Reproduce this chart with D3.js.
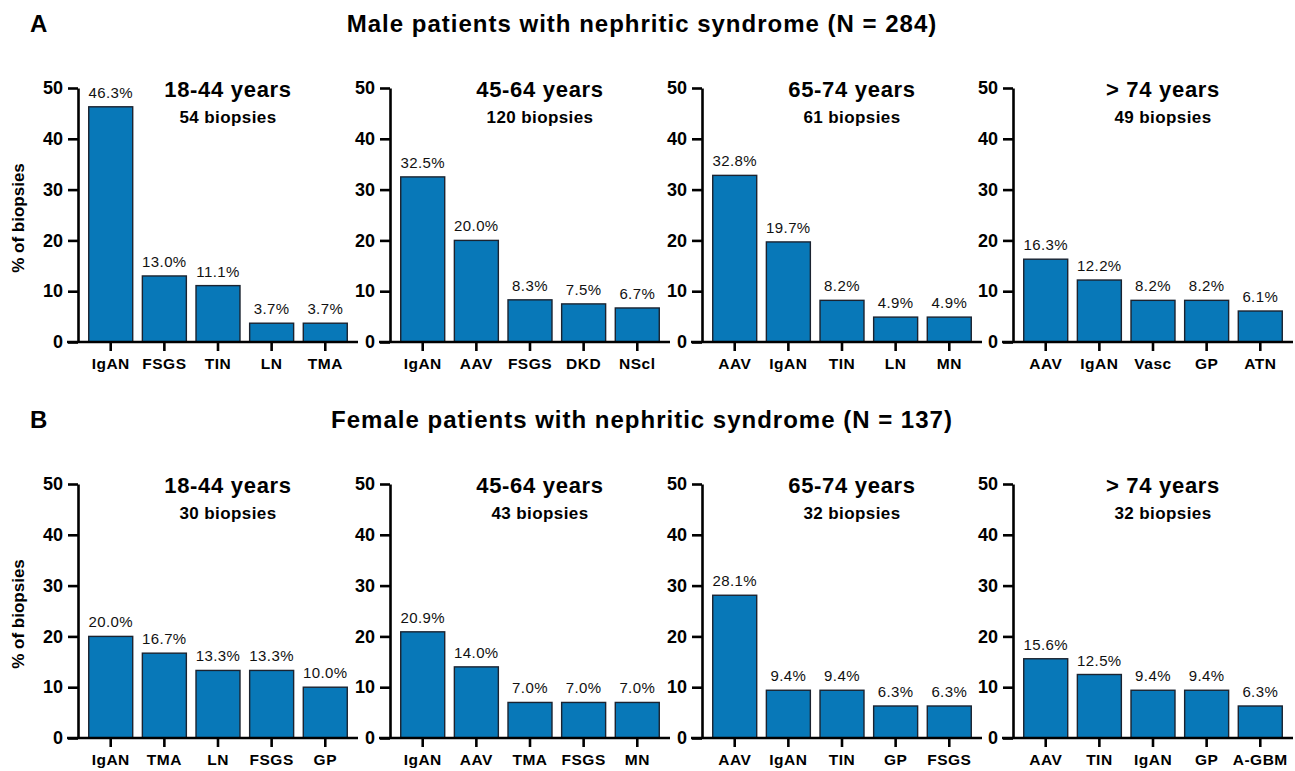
<!DOCTYPE html>
<html>
<head>
<meta charset="utf-8">
<script src="https://cdn.jsdelivr.net/npm/d3@7"></script>
<style>
  body { margin: 0; background: #fff; }
  text { font-family: Arial, "Liberation Sans", Helvetica, sans-serif; }
</style>
</head>
<body>
<svg id="chart" width="1295" height="771"></svg>
<script>
// section titles
const sectionLetters = ["A", "B"];
const sectionTitles = [
  "Male patients with nephritic syndrome (N = 284)",
  "Female patients with nephritic syndrome (N = 137)"
];
const ageGroups = ["18-44 years", "45-64 years", "65-74 years", "> 74 years"];

// male panels
const maleBiopsies = [54, 120, 61, 49];
const maleCategories = [
  ["IgAN", "FSGS", "TIN", "LN", "TMA"],
  ["IgAN", "AAV", "FSGS", "DKD", "NScl"],
  ["AAV", "IgAN", "TIN", "LN", "MN"],
  ["AAV", "IgAN", "Vasc", "GP", "ATN"]
];
const maleValues = [
  [46.3, 13.0, 11.1, 3.7, 3.7],
  [32.5, 20.0, 8.3, 7.5, 6.7],
  [32.8, 19.7, 8.2, 4.9, 4.9],
  [16.3, 12.2, 8.2, 8.2, 6.1]
];

// female panels
const femaleBiopsies = [30, 43, 32, 32];
const femaleCategories = [
  ["IgAN", "TMA", "LN", "FSGS", "GP"],
  ["IgAN", "AAV", "TMA", "FSGS", "MN"],
  ["AAV", "IgAN", "TIN", "GP", "FSGS"],
  ["AAV", "TIN", "IgAN", "GP", "A-GBM"]
];
const femaleValues = [
  [20.0, 16.7, 13.3, 13.3, 10.0],
  [20.9, 14.0, 7.0, 7.0, 7.0],
  [28.1, 9.4, 9.4, 6.3, 6.3],
  [15.6, 12.5, 9.4, 9.4, 6.3]
];

const yTicks = [0, 10, 20, 30, 40, 50];

const svg = d3.select("#chart");

// layout
const panelLeft = [78, 390, 702, 1013];
const panelWidth = 280;
const rowTop = [88, 484];   // y of 50
const rowBottom = [342, 738]; // y of 0
const barColor = "#0878b8";

const rows = [
  { biopsies: maleBiopsies, cats: maleCategories, vals: maleValues },
  { biopsies: femaleBiopsies, cats: femaleCategories, vals: femaleValues }
];

rows.forEach((row, r) => {
  const yOff = r * 396;

  // section letter + title
  svg.append("text")
    .attr("x", 30).attr("y", 32 + yOff)
    .attr("font-size", 24).attr("font-weight", "bold")
    .text(sectionLetters[r]);
  svg.append("text")
    .attr("x", 642).attr("y", 32 + yOff)
    .attr("text-anchor", "middle")
    .attr("font-size", 24).attr("font-weight", "bold")
    .attr("letter-spacing", 1)
    .text(sectionTitles[r]);

  // y axis label
  svg.append("text")
    .attr("transform", `translate(24,${218 + yOff}) rotate(-90)`)
    .attr("text-anchor", "middle")
    .attr("font-size", 17).attr("font-weight", "bold")
    .text("% of biopsies");

  ageGroups.forEach((age, p) => {
    const x0 = panelLeft[p];
    const g = svg.append("g");

    const x = d3.scaleBand()
      .domain(row.cats[p])
      .range([x0, x0 + panelWidth])
      .paddingInner(0.18)
      .paddingOuter(0.2);

    const y = d3.scaleLinear()
      .domain([0, 50])
      .range([rowBottom[r], rowTop[r]]);

    const data = row.cats[p].map((c, i) => ({ cat: c, val: row.vals[p][i] }));

    // bars
    g.selectAll("rect.bar")
      .data(data)
      .join("rect")
      .attr("class", "bar")
      .attr("x", d => x(d.cat))
      .attr("y", d => y(d.val))
      .attr("width", x.bandwidth())
      .attr("height", d => y(0) - y(d.val))
      .attr("fill", barColor)
      .attr("stroke", "#1b2330")
      .attr("stroke-width", 1.4);

    // value labels
    g.selectAll("text.val")
      .data(data)
      .join("text")
      .attr("class", "val")
      .attr("x", d => x(d.cat) + x.bandwidth() / 2)
      .attr("y", d => y(d.val) - 9)
      .attr("text-anchor", "middle")
      .attr("font-size", 15)
      .attr("letter-spacing", 0.4)
      .attr("fill", "#111")
      .text(d => d.val.toFixed(1) + "%");

    // y axis
    const yAxis = g.append("g")
      .attr("transform", `translate(${x0},0)`)
      .call(d3.axisLeft(y).tickValues(yTicks).tickSize(10).tickPadding(5).tickSizeOuter(0));
    yAxis.select(".domain").attr("stroke", "#000").attr("stroke-width", 2.6);
    yAxis.selectAll(".tick line").attr("stroke", "#000").attr("stroke-width", 2.6);
    yAxis.selectAll(".tick text")
      .attr("font-size", 18).attr("font-weight", "bold")
      .attr("font-family", "Arial, 'Liberation Sans', sans-serif")
      .attr("fill", "#000");

    // x axis
    const xAxis = g.append("g")
      .attr("transform", `translate(0,${rowBottom[r]})`)
      .call(d3.axisBottom(x).tickSize(9).tickPadding(7).tickSizeOuter(0));
    xAxis.select(".domain")
      .attr("d", `M${x0 - 11},0H${x0 + panelWidth}`)
      .attr("stroke", "#000").attr("stroke-width", 2.6);
    xAxis.selectAll(".tick line").attr("stroke", "#000").attr("stroke-width", 2.6);
    xAxis.selectAll(".tick text")
      .attr("font-size", 15.5).attr("font-weight", "bold")
      .attr("letter-spacing", 0.5)
      .attr("font-family", "Arial, 'Liberation Sans', sans-serif")
      .attr("fill", "#000");

    // panel titles
    const cx = x0 + panelWidth / 2 + 10;
    g.append("text")
      .attr("x", cx).attr("y", 97 + yOff)
      .attr("text-anchor", "middle")
      .attr("font-size", 22).attr("font-weight", "bold")
      .attr("letter-spacing", 0.7)
      .text(age);
    g.append("text")
      .attr("x", cx).attr("y", 123 + yOff)
      .attr("text-anchor", "middle")
      .attr("font-size", 17).attr("font-weight", "bold")
      .attr("letter-spacing", 0.4)
      .text(row.biopsies[p] + " biopsies");
  });
});
</script>
</body>
</html>
